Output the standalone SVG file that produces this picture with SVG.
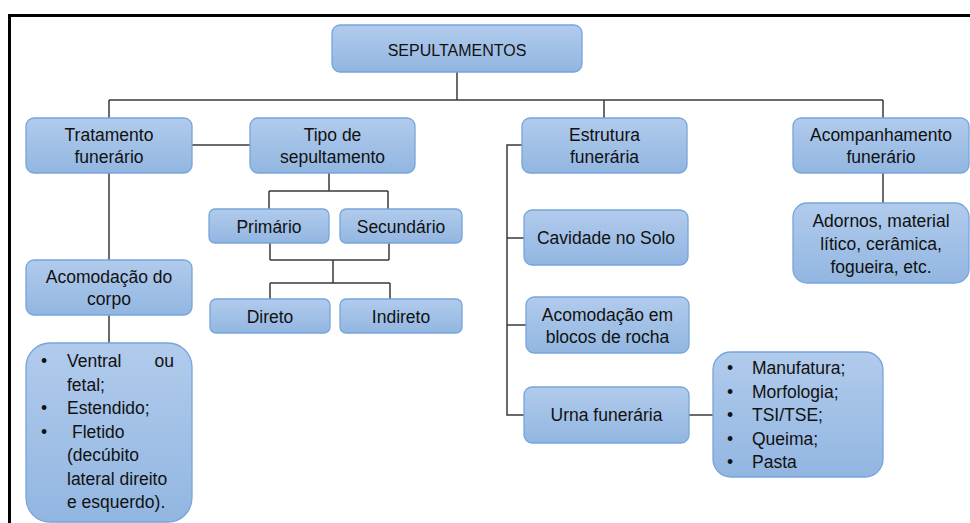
<svg xmlns="http://www.w3.org/2000/svg" width="970" height="523" viewBox="0 0 970 523">
<defs>
<linearGradient id="g" x1="0" y1="0" x2="0" y2="1">
<stop offset="0" stop-color="#b1cbec"/>
<stop offset="1" stop-color="#92b6e1"/>
</linearGradient>
<style>
.b{fill:url(#g);stroke:#76a5dc;stroke-width:1.3}
.t{font-family:"Liberation Sans",Arial,sans-serif;font-size:17.5px;fill:#111;text-anchor:middle}
.l{font-family:"Liberation Sans",Arial,sans-serif;font-size:17.5px;fill:#111}
.h{font-size:16px}
.c{fill:none;stroke:#3a3a3a;stroke-width:1.5}
</style>
</defs>
<rect x="0" y="0" width="970" height="523" fill="#fff"/>
<rect x="9.5" y="15.5" width="990" height="530" fill="none" stroke="#000" stroke-width="3"/>
<g id="connectors" class="c">
<path d="M457 72V100M109 100H883M109 100V118M604 100V118M883 100V118"/>
<path d="M192 145H250"/>
<path d="M329 173V191M269 191H388M269 191V209M388 191V209"/>
<path d="M270 243V260M389 243V260M270 260H389M333 260V283M270 283H390M270 283V299M390 283V299"/>
<path d="M109 173V260M109 315V343"/>
<path d="M522 145H507V415H524M507 238H524M507 325H526"/>
<path d="M689 415H713"/>
<path d="M883 173V203"/>
</g>
<g id="sepultamentos"><rect class="b" x="332" y="25" width="250" height="47" rx="8"/><text class="t h" x="457" y="55.5">SEPULTAMENTOS</text></g>
<g id="tratamento"><rect class="b" x="26" y="118" width="166" height="55" rx="8"/><text class="t" x="109" y="140.5">Tratamento</text><text class="t" x="109" y="163">funerário</text></g>
<g id="tipo"><rect class="b" x="250" y="118" width="165" height="55" rx="8"/><text class="t" x="332.5" y="140.5">Tipo de</text><text class="t" x="332.5" y="163">sepultamento</text></g>
<g id="estrutura"><rect class="b" x="522" y="118" width="165" height="55" rx="8"/><text class="t" x="604.5" y="140.5">Estrutura</text><text class="t" x="604.5" y="163">funerária</text></g>
<g id="acompanhamento"><rect class="b" x="793" y="118" width="176" height="55" rx="8"/><text class="t" x="881" y="140.5">Acompanhamento</text><text class="t" x="881" y="163">funerário</text></g>
<g id="primario"><rect class="b" x="209" y="209" width="120" height="34" rx="6"/><text class="t" x="269" y="233">Primário</text></g>
<g id="secundario"><rect class="b" x="340" y="209" width="122" height="34" rx="6"/><text class="t" x="401" y="233">Secundário</text></g>
<g id="direto"><rect class="b" x="210" y="299" width="120" height="34" rx="6"/><text class="t" x="270" y="323">Direto</text></g>
<g id="indireto"><rect class="b" x="340" y="299" width="122" height="34" rx="6"/><text class="t" x="401" y="323">Indireto</text></g>
<g id="acomodacao"><rect class="b" x="26" y="260" width="166" height="55" rx="8"/><text class="t" x="109" y="283">Acomodação do</text><text class="t" x="109" y="305">corpo</text></g>
<g id="posicoes"><rect class="b" x="26" y="343" width="166" height="179" rx="24"/>
<text class="l"><tspan x="41" y="367">•</tspan><tspan x="67" y="367">Ventral</tspan><tspan x="174" y="367" text-anchor="end">ou</tspan><tspan x="67" y="390.5">fetal;</tspan><tspan x="41" y="414">•</tspan><tspan x="67" y="414">Estendido;</tspan><tspan x="41" y="437.5">•</tspan><tspan x="72" y="437.5">Fletido</tspan><tspan x="67" y="461">(decúbito</tspan><tspan x="67" y="484.5">lateral direito</tspan><tspan x="67" y="508">e esquerdo).</tspan></text></g>
<g id="cavidade"><rect class="b" x="524" y="210" width="164" height="55" rx="8"/><text class="t" x="606" y="244">Cavidade no Solo</text></g>
<g id="blocos"><rect class="b" x="526" y="297" width="163" height="56" rx="8"/><text class="t" x="607.5" y="321">Acomodação em</text><text class="t" x="607.5" y="343">blocos de rocha</text></g>
<g id="urna"><rect class="b" x="524" y="387" width="165" height="56" rx="8"/><text class="t" x="606.5" y="421">Urna funerária</text></g>
<g id="urna-itens"><rect class="b" x="713" y="352" width="170" height="125" rx="18"/>
<text class="l"><tspan x="727" y="374">•</tspan><tspan x="752" y="374">Manufatura;</tspan><tspan x="727" y="397.5">•</tspan><tspan x="752" y="397.5">Morfologia;</tspan><tspan x="727" y="421">•</tspan><tspan x="752" y="421">TSI/TSE;</tspan><tspan x="727" y="444.5">•</tspan><tspan x="752" y="444.5">Queima;</tspan><tspan x="727" y="468">•</tspan><tspan x="752" y="468">Pasta</tspan></text></g>
<g id="adornos"><rect class="b" x="793" y="203" width="176" height="80" rx="14"/><text class="t" x="881" y="227">Adornos, material</text><text class="t" x="881" y="250">lítico, cerâmica,</text><text class="t" x="881" y="273">fogueira, etc.</text></g>
</svg>
